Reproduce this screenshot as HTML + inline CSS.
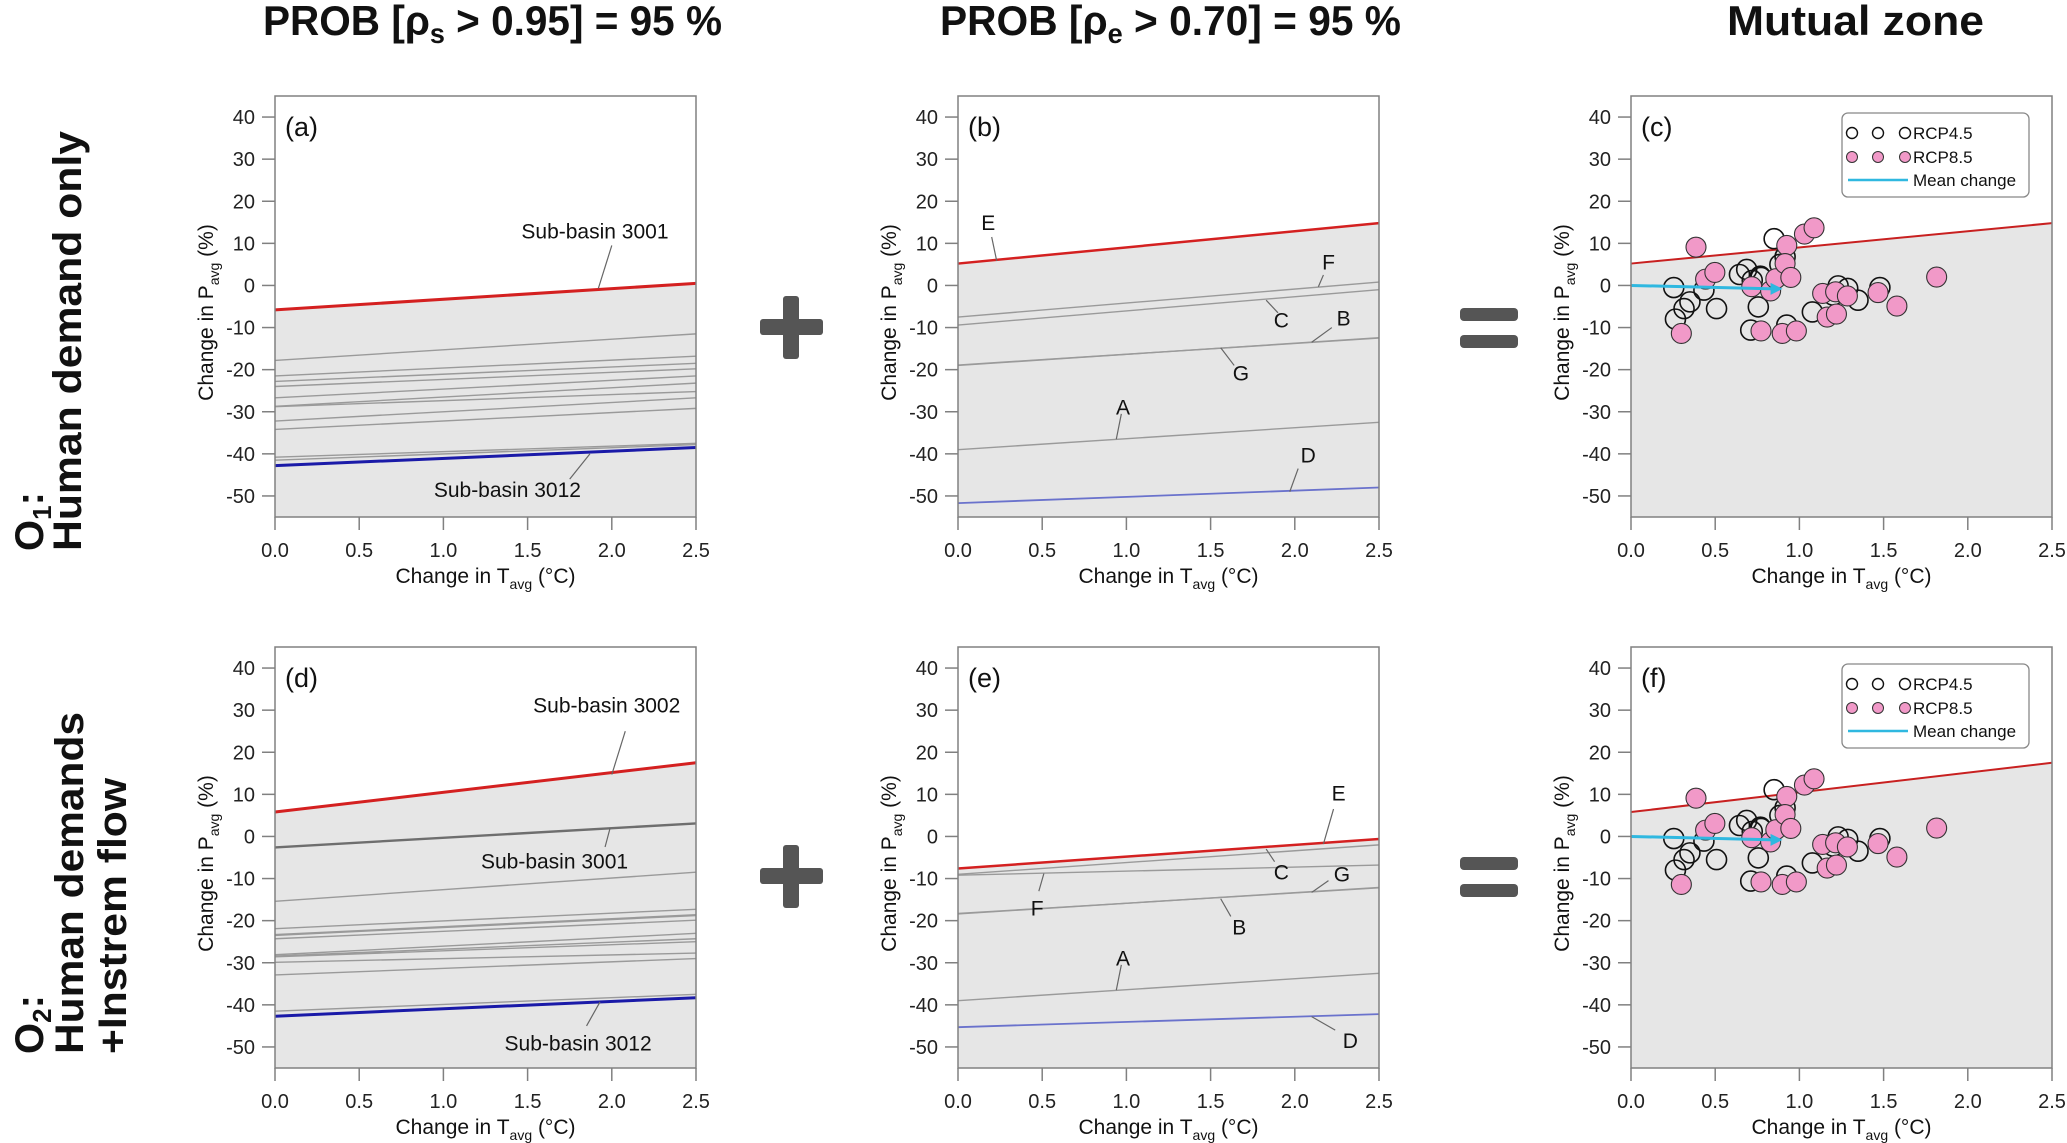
<!DOCTYPE html>
<html><head><meta charset="utf-8"><style>
body{margin:0;background:#fff;}
svg{display:block;font-family:"Liberation Sans",sans-serif;}
</style></head><body>
<svg id="fig" width="2067" height="1143" viewBox="0 0 2067 1143" xmlns="http://www.w3.org/2000/svg">
<g font-weight="bold" font-size="42" fill="#111">
<text x="263" y="35" textLength="459" lengthAdjust="spacingAndGlyphs">PROB [ρ<tspan font-size="28" dy="8">s</tspan><tspan dy="-8"> &gt; 0.95] = 95 %</tspan></text>
<text x="940" y="35" textLength="461" lengthAdjust="spacingAndGlyphs">PROB [ρ<tspan font-size="28" dy="8">e</tspan><tspan dy="-8"> &gt; 0.70] = 95 %</tspan></text>
<text x="1727" y="35" textLength="257" lengthAdjust="spacingAndGlyphs">Mutual zone</text>
</g>
<g font-weight="bold" font-size="40" fill="#111">
<text transform="translate(43,551) rotate(-90)">O<tspan font-size="26" dy="8">1</tspan><tspan dy="-8">:</tspan></text>
<text transform="translate(81,551) rotate(-90)" textLength="420" lengthAdjust="spacingAndGlyphs">Human demand only</text>
<text transform="translate(43,1054) rotate(-90)">O<tspan font-size="26" dy="8">2</tspan><tspan dy="-8">:</tspan></text>
<text transform="translate(83,1054) rotate(-90)" textLength="342" lengthAdjust="spacingAndGlyphs">Human  demands</text>
<text transform="translate(126,1054) rotate(-90)" textLength="276" lengthAdjust="spacingAndGlyphs">+Instrem flow</text>
</g>
<g fill="#555">
<rect x="760" y="319" width="63" height="16" rx="3"/>
<rect x="783" y="296" width="16" height="63" rx="3"/>
<rect x="1460" y="308" width="58" height="13" rx="4"/>
<rect x="1460" y="335" width="58" height="13" rx="4"/>
<rect x="760" y="868" width="63" height="16" rx="3"/>
<rect x="783" y="845" width="16" height="63" rx="3"/>
<rect x="1460" y="857" width="58" height="13" rx="4"/>
<rect x="1460" y="884" width="58" height="13" rx="4"/>
</g>
</svg>
<script>
// ---------- data ----------
const xTicks = [0, 0.5, 1.0, 1.5, 2.0, 2.5];
const xTickLabels = ["0.0","0.5","1.0","1.5","2.0","2.5"];
const yTicks = [40, 30, 20, 10, 0, -10, -20, -30, -40, -50];
const yTickLabels = ["40","30","20","10","0","-10","-20","-30","-40","-50"];

// panel (a)
const aRed = [-5.8, 0.5];
const aBlue = [-42.8, -38.5];
const aGrayStart = [-17.8, -21.5, -22.8, -24.0, -26.7, -28.7, -28.8, -32.2, -34.2, -40.8, -41.5];
const aGrayEnd   = [-11.5, -16.8, -18.5, -19.8, -21.5, -23.2, -25.2, -26.7, -29.2, -37.5, -37.8];
// panel (b)
const bRed = [5.2, 14.8];
const bBlue = [-51.7, -48.0];
const bGrayStart = [-7.5, -9.4, -18.9, -19.0, -39.0];
const bGrayEnd   = [0.8, -1.0, -12.5, -12.4, -32.5];
// panel (d)
const dRed = [5.8, 17.5];
const dBlue = [-42.7, -38.3];
const dDark = [-2.6, 3.1];
const dGrayStart = [-15.4, -21.9, -23.3, -23.5, -24.3, -28.1, -28.4, -28.6, -29.9, -32.9, -41.5];
const dGrayEnd   = [-8.5, -17.3, -18.6, -18.8, -19.9, -23.0, -24.3, -25.0, -27.7, -29.0, -37.5];
// panel (e)
const eRed = [-7.6, -0.6];
const eBlue = [-45.3, -42.2];
const eGrayStart = [-9.0, -9.2, -18.3, -18.4, -39.0];
const eGrayEnd   = [-2.0, -6.8, -12.2, -12.1, -32.5];
// panels (c)/(f) scatter
const rcp45T = [0.254,0.264,0.315,0.35,0.433,0.508,0.644,0.687,0.72,0.768,0.772,0.756,0.711,0.85,0.915,0.884,0.925,1.077,1.2,1.23,1.287,1.348,1.478];
const rcp45P = [-0.5,-8.0,-5.5,-3.9,-1.1,-5.5,2.6,3.8,1.2,2.2,1.9,-5.1,-10.6,11.1,6.8,5.0,-9.4,-6.3,-2.3,-0.1,-0.7,-3.5,-0.5];
const rcp85T = [0.386,0.299,0.443,0.498,0.717,0.772,0.829,0.86,0.925,0.915,0.949,0.898,0.982,1.03,1.087,1.138,1.165,1.215,1.22,1.285,1.467,1.579,1.815];
const rcp85P = [9.1,-11.4,1.5,3.1,-0.3,-10.8,-1.3,1.6,9.5,5.2,1.9,-11.4,-10.8,12.2,13.7,-1.9,-7.5,-1.5,-6.8,-2.5,-1.7,-4.9,2.0];
const meanChangeT = [0, 0.9];
const meanChangeP = [0, -0.8];
const cRed = [5.2, 14.8];
const fRed = [5.8, 17.5];

// annotations: [label, textT, textP, lineT1, lineP1, lineT2, lineP2]
const aNotes = [["Sub-basin 3001",1.9,13,1.92,-0.7,2.0,9.5],["Sub-basin 3012",1.38,-48.5,1.87,-40,1.75,-46]];
const bNotes = [["E",0.18,15,0.23,5.8,0.2,11.5],["F",2.2,5.6,2.14,-0.3,2.17,2.5],["C",1.92,-8.2,1.83,-3.5,1.9,-6.5],["B",2.29,-7.7,2.1,-13.5,2.22,-10],["G",1.68,-20.8,1.56,-14.8,1.64,-19],["A",0.98,-28.9,0.94,-36.5,0.97,-30.5],["D",2.08,-40.3,1.97,-49,2.02,-43.5]];
const dNotes = [["Sub-basin 3002",1.97,31.2,2.0,14.7,2.08,25],["Sub-basin 3001",1.66,-5.8,1.99,2,1.96,-2.5],["Sub-basin 3012",1.8,-49,1.93,-39.3,1.85,-45]];
const eNotes = [["E",2.26,10.3,2.17,-1.8,2.23,6.5],["C",1.92,-8.4,1.83,-3,1.88,-6],["G",2.28,-8.9,2.1,-13.3,2.2,-10.5],["F",0.47,-17,0.51,-8.8,0.48,-13],["B",1.67,-21.5,1.56,-14.8,1.62,-19],["A",0.98,-28.8,0.94,-36.5,0.97,-30.5],["D",2.33,-48.4,2.1,-42.8,2.24,-46]];

// ---------- drawing ----------
const NS = "http://www.w3.org/2000/svg";
const svg = document.getElementById("fig");
const W = 421, H = 421, X0 = 0, X1 = 2.5, YMAX = 45, YMIN = -55;
function mk(tag, parent, attrs){ const e=document.createElementNS(NS,tag); for(const k in attrs) e.setAttribute(k,attrs[k]); parent.appendChild(e); return e; }
function xs(p,v){ return p.x + (v - X0)/(X1 - X0)*W; }
function ys(p,v){ return p.y + (YMAX - v)/(YMAX - YMIN)*H; }

function panel(id, px, py, label){
  const p = {x:px, y:py};
  const g = mk("g", svg, {});
  
  
  p.g = g;
  p.label = label;
  return p;
}
function fillBelow(p, red){
  const poly = mk("polygon", p.g, {points:`${xs(p,0)},${ys(p,red[0])} ${xs(p,2.5)},${ys(p,red[1])} ${xs(p,2.5)},${p.y+H} ${xs(p,0)},${p.y+H}`, fill:"#e6e6e6"});
  
  
}
function seg(p, v, color, width, name){
  const l = mk("line", p.g, {x1:xs(p,0), y1:ys(p,v[0]), x2:xs(p,2.5), y2:ys(p,v[1]), stroke:color, "stroke-width":width});
  
  
}
function grays(p, s, e){
  for(let i=0;i<s.length;i++){
    seg(p, [s[i], e[i]], "#9a9a9a", 1.4, "gray-line-" + i);
  }
}
function notes(p, arr, fs){
  arr.forEach(n=>{
    const l = mk("line", p.g, {x1:xs(p,n[3]), y1:ys(p,n[4]), x2:xs(p,n[5]), y2:ys(p,n[6]), stroke:"#666", "stroke-width":1.2});
    
    
    const t = mk("text", p.g, {x:xs(p,n[1]), y:ys(p,n[2])+fs*0.36, "font-size":fs, "text-anchor":"middle", fill:"#111"});
    t.textContent = n[0];
    
    
  });
}
function axes(p){
  const fr = mk("rect", p.g, {x:p.x, y:p.y, width:W, height:H, fill:"none", stroke:"#808080", "stroke-width":1.5});
  
  
  const lab = mk("text", p.g, {x:p.x+10, y:p.y+40, "font-size":27, fill:"#111"});
  lab.textContent = p.label;
  
  
  yTicks.forEach((v,i)=>{
    const y = ys(p,v);
    const tk = mk("line", p.g, {x1:p.x-13, y1:y, x2:p.x, y2:y, stroke:"#808080", "stroke-width":1.5});
    
    
    const t = mk("text", p.g, {x:p.x-20, y:y+7, "font-size":20, "text-anchor":"end", fill:"#222"});
    t.textContent = yTickLabels[i];
    
    
  });
  xTicks.forEach((v,i)=>{
    const x = xs(p,v);
    const tk = mk("line", p.g, {x1:x, y1:p.y+H, x2:x, y2:p.y+H+13, stroke:"#808080", "stroke-width":1.5});
    
    
    const t = mk("text", p.g, {x:x, y:p.y+H+40, "font-size":20, "text-anchor":"middle", fill:"#222"});
    t.textContent = xTickLabels[i];
    
    
  });
  const xt = mk("text", p.g, {x:p.x+W/2, y:p.y+H+66, "font-size":21, "text-anchor":"middle", fill:"#111"});
  xt.innerHTML = 'Change in T<tspan font-size="14" dy="6">avg</tspan><tspan dy="-6"> (°C)</tspan>';
  
  
  const yt = mk("text", p.g, {transform:`translate(${p.x-62},${p.y+H/2+6}) rotate(-90)`, "font-size":21, "text-anchor":"middle", fill:"#111"});
  yt.innerHTML = 'Change in P<tspan font-size="14" dy="6">avg</tspan><tspan dy="-6"> (%)</tspan>';
  
  
}
function scatter(p){
  const g = mk("g", p.g, {});
  
  
  for(let i=0;i<rcp45T.length;i++){
    const c = mk("circle", g, {cx:xs(p,rcp45T[i]), cy:ys(p,rcp45P[i]), r:10, fill:"none", stroke:"#111", "stroke-width":1.6});
    
    
  }
  for(let i=0;i<rcp85T.length;i++){
    const c = mk("circle", g, {cx:xs(p,rcp85T[i]), cy:ys(p,rcp85P[i]), r:10, fill:"#f199c8", stroke:"#333", "stroke-width":1.1});
    
    
  }
  const x1=xs(p,meanChangeT[0]), y1=ys(p,meanChangeP[0]), x2=xs(p,meanChangeT[1]), y2=ys(p,meanChangeP[1]);
  const ln = mk("line", g, {x1:x1, y1:y1, x2:x2-8, y2:y2, stroke:"#2fb8e0", "stroke-width":3});
  
  
  const hd = mk("polygon", g, {points:`${x2},${y2} ${x2-12},${y2-6} ${x2-12},${y2+6}`, fill:"#2fb8e0"});
  
  
  // legend
  const lg = mk("g", p.g, {});
  
  
  mk("rect", lg, {x:p.x+211, y:p.y+17, width:187, height:84, rx:6, fill:"#fff", stroke:"#888", "stroke-width":1.3});
  [221,247,274].forEach(dx=>{
    const c1 = mk("circle", lg, {cx:p.x+dx, cy:p.y+37, r:5.5, fill:"none", stroke:"#111", "stroke-width":1.4});
    
    
    const c2 = mk("circle", lg, {cx:p.x+dx, cy:p.y+61, r:5.5, fill:"#f199c8", stroke:"#333", "stroke-width":1});
    
    
  });
  const ll = mk("line", lg, {x1:p.x+217, y1:p.y+84, x2:p.x+277, y2:p.y+84, stroke:"#2fb8e0", "stroke-width":2.5});
  
  
  [["RCP4.5",43],["RCP8.5",67],["Mean change",90]].forEach(a=>{
    const t = mk("text", lg, {x:p.x+282, y:p.y+a[1], "font-size":17, fill:"#111"});
    t.textContent = a[0];
    
    
  });
}

// (a)
let p = panel("a", 275, 96, "(a)");
fillBelow(p, aRed); grays(p, aGrayStart, aGrayEnd);
seg(p, aBlue, "#1a1aa8", 3, "sub-basin-3012-line"); seg(p, aRed, "#d42020", 3, "sub-basin-3001-line");
notes(p, aNotes, 21); axes(p);
// (b)
p = panel("b", 958, 96, "(b)");
fillBelow(p, bRed); grays(p, bGrayStart, bGrayEnd);
seg(p, bBlue, "#6a72cc", 1.8, "line-d"); seg(p, bRed, "#d42020", 2.5, "line-e");
notes(p, bNotes, 21); axes(p);
// (c)
p = panel("c", 1631, 96, "(c)");
fillBelow(p, cRed); seg(p, cRed, "#c82020", 2, "upper-bound-line");
scatter(p); axes(p);
// (d)
p = panel("d", 275, 647, "(d)");
fillBelow(p, dRed); grays(p, dGrayStart, dGrayEnd);
seg(p, dDark, "#6e6e6e", 2.4, "sub-basin-3001-line");
seg(p, dBlue, "#1a1aa8", 3, "sub-basin-3012-line"); seg(p, dRed, "#d42020", 3, "sub-basin-3002-line");
notes(p, dNotes, 21); axes(p);
// (e)
p = panel("e", 958, 647, "(e)");
fillBelow(p, eRed); grays(p, eGrayStart, eGrayEnd);
seg(p, eBlue, "#6a72cc", 1.8, "line-d"); seg(p, eRed, "#d42020", 2.5, "line-e");
notes(p, eNotes, 21); axes(p);
// (f)
p = panel("f", 1631, 647, "(f)");
fillBelow(p, fRed); seg(p, fRed, "#c82020", 2, "upper-bound-line");
scatter(p); axes(p);
</script>
</body></html>
